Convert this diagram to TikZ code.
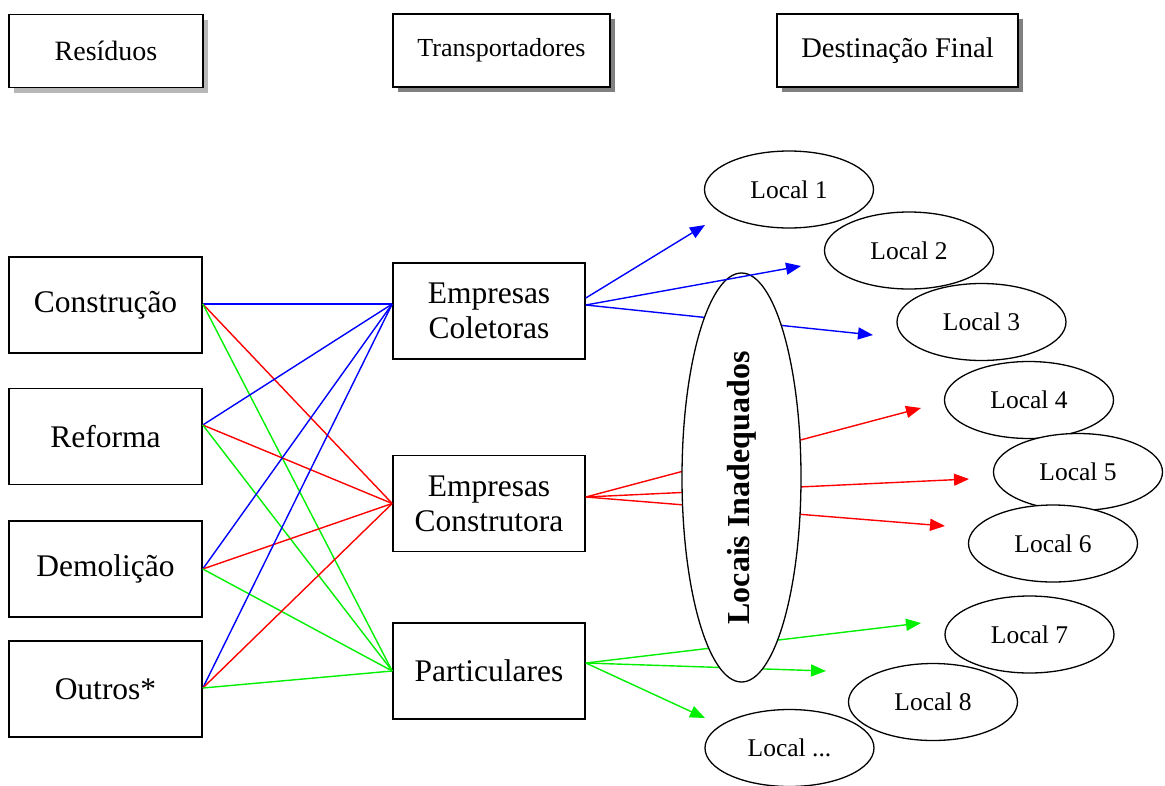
\documentclass[tikz,border=0pt]{standalone}
\usepackage{fontspec}
\setmainfont{Liberation Serif}
\usetikzlibrary{arrows.meta,shapes.geometric,calc,shadows}
\definecolor{flowblue}{RGB}{0,0,255}
\definecolor{flowred}{RGB}{255,0,0}
\definecolor{flowgreen}{RGB}{0,240,0}
\newcommand{\fsz}[1]{\fontsize{#1}{#1}\selectfont}
\begin{document}
\begin{tikzpicture}[x=1pt,y=-1pt,
  header/.style={draw, line width=1.6pt, fill=white, minimum height=73pt, inner sep=0pt,
    drop shadow={shadow xshift=5pt, shadow yshift=-5pt, fill=black!50, opacity=1}},
  box/.style={draw, line width=1.6pt, fill=white, minimum width=193pt, minimum height=96pt,
    inner sep=0pt, align=center, font=\fsz{31.5}, execute at begin node=\setlength{\baselineskip}{35pt}},
  place/.style={ellipse, draw, line width=1.3pt, fill=white, minimum width=169pt,
    minimum height=77pt, inner sep=0pt, font=\fsz{25.5}},
  flow/.style={line width=1.4pt},
  tip/.style={-{Triangle[length=15pt,width=12pt]}}
]
\useasboundingbox (0,0) rectangle (1165,785);

% column headers
\node[header, minimum width=194pt, font=\fsz{28},
  drop shadow={shadow xshift=5pt, shadow yshift=-5pt, fill=black!28, opacity=1}]
  (hres) at (106,51) {Resíduos};
\node[header, minimum width=217pt, font=\fsz{26}] (htra) at (501.5,50.5) {Transportadores};
\node[header, minimum width=241pt, font=\fsz{28.5}] (hdes) at (897.5,50.5) {Destinação Final};

% waste sources
\node[box] (constr) at (105.5,305) {Construção};
\node[box] (reform) at (105.5,436.5) {Reforma};
\node[box] (demol)  at (105.5,569) {Demolição};
\node[box] (outros) at (105.5,689) {Outros*};

% carriers
\node[box, minimum width=192pt] (colet) at (489,311) {Empresas\\Coletoras};
\node[box, minimum width=192pt] (const) at (489,503.5) {Empresas\\Construtora};
\node[box, minimum width=192pt] (partic) at (489,671) {Particulares};

% attachment points on the box sides
\coordinate (pC) at ($(constr.east)+(0,-1)$);
\coordinate (pR) at ($(reform.east)+(0,-11.5)$);
\coordinate (pD) at (demol.east);
\coordinate (pO) at ($(outros.east)+(0,-1)$);
\coordinate (qCol) at ($(colet.west)+(0,-7)$);
\coordinate (qCon) at (const.west);
\coordinate (qPar) at (partic.west);
\coordinate (sCol1) at ($(colet.east)+(0,-13)$);
\coordinate (sCol2) at ($(colet.east)+(0,-6)$);
\coordinate (sCon) at ($(const.east)+(0,-6.5)$);
\coordinate (sPar) at ($(partic.east)+(0,-8)$);

% sources to carriers
\foreach \s in {pC,pR,pD,pO}{
  \draw[flow, flowblue] (\s) -- (qCol);
  \draw[flow, flowred] (\s) -- (qCon);
  \draw[flow, flowgreen] (\s) -- (qPar);
}

% destinations
\node[place] (l1) at (789,189.5) {Local 1};
\node[place] (l2) at (909,250.5) {Local 2};
\node[place] (l3) at (981.5,322) {Local 3};
\node[place] (l4) at (1029,400) {Local 4};
\node[place] (l5) at (1078,472) {Local 5};
\node[place] (l6) at (1053,543.5) {Local 6};
\node[place] (l7) at (1029.5,634.5) {Local 7};
\node[place] (l8) at (933,702) {Local 8};
\node[place] (ln) at (789.5,748) {Local ...};

% arrow ends
\coordinate (e1) at (705,225);
\coordinate (e2) at (801,266);
\coordinate (e3) at (873,335);
\coordinate (e4) at (921,408);
\coordinate (e5) at (969,479);
\coordinate (e6) at (945,526);
\coordinate (e7) at (921,623);
\coordinate (e8) at (826,671);
\coordinate (e9) at (705,718);

\draw[flow, tip, flowblue] (sCol1) -- (e1);
\draw[flow, tip, flowblue] (sCol2) -- (e3);
\draw[flow, tip, flowred] (sCon) -- (e4);
\draw[flow, tip, flowred] (sCon) -- (e5);
\draw[flow, tip, flowred] (sCon) -- (e6);
\draw[flow, tip, flowgreen] (sPar) -- (e7);
\draw[flow, tip, flowgreen] (sPar) -- (e8);
\draw[flow, tip, flowgreen] (sPar) -- (e9);

% inadequate sites
\node[ellipse, draw, line width=1.3pt, fill=white, minimum width=119pt, minimum height=409pt,
  inner sep=0pt] (inad) at (741.5,477.5) {};
\node[rotate=90, font=\bfseries\fsz{32}] (inadtxt) at (742,488) {Locais Inadequados};

\draw[flow, tip, flowblue] (sCol2) -- (e2);
\end{tikzpicture}
\end{document}
